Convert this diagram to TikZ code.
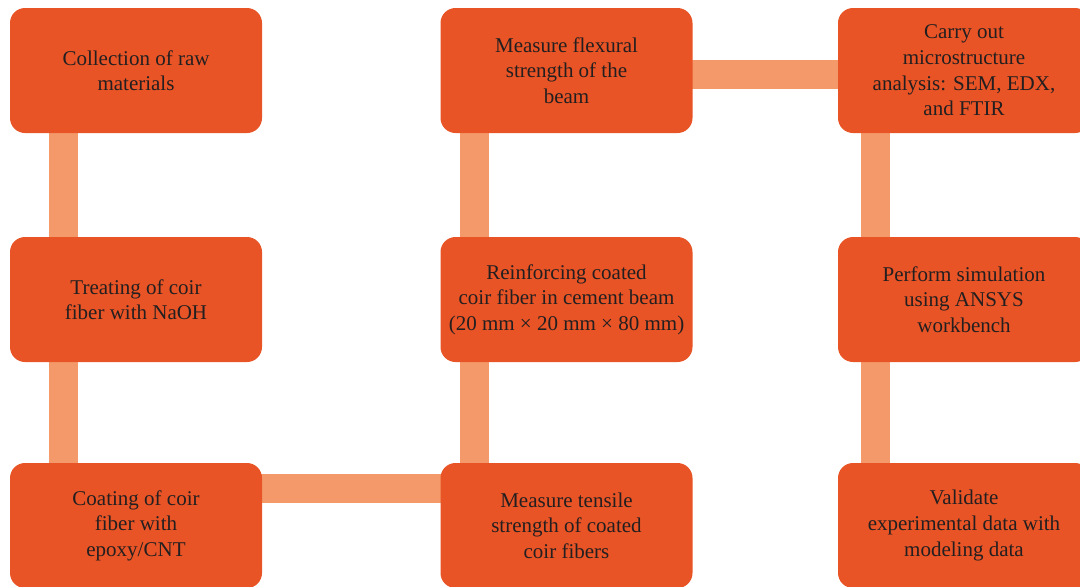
\documentclass[tikz,border=0pt]{standalone}
\usepackage{fontspec}
\setmainfont{Liberation Serif}
\usetikzlibrary{backgrounds}
\definecolor{boxfill}{HTML}{E85425}
\definecolor{barcol}{HTML}{F49A6A}
\definecolor{txt}{HTML}{231F20}
\tikzset{
  stepbox/.style={draw=none, fill=boxfill, rounded corners=7.5pt, minimum width=126pt, minimum height=62.5pt, inner sep=0pt, align=center, text=txt, font=\fontsize{10.5}{12.8}\selectfont},
  bar/.style={draw=barcol, line width=14.5pt, line cap=butt}
}
\begin{document}
\begin{tikzpicture}[x=0.5pt, y=-0.5pt]
\useasboundingbox (0,0) rectangle (1080,586);
\clip (0,0) rectangle (1080,586);
\node[stepbox] (a1) at (136,70.5) {Collection of raw\\materials};
\node[stepbox] (a2) at (136,299.5) {Treating of coir\\fiber with NaOH};
\node[stepbox] (a3) at (136,525.5) {Coating of coir\\fiber with\\epoxy/CNT};
\node[stepbox] (b3) at (566.5,525.5) {Measure tensile\\strength of coated\\coir fibers};
\node[stepbox] (b2) at (566.5,299.5) {Reinforcing coated\\coir fiber in cement beam\\(20 mm × 20 mm × 80 mm)};
\node[stepbox] (b1) at (566.5,70.5) {Measure flexural\\strength of the\\beam};
\node[stepbox] (c1) at (964,70.5) {Carry out\\microstructure\\analysis: SEM, EDX,\\and FTIR};
\node[stepbox] (c2) at (964,299.5) {Perform simulation\\using ANSYS\\workbench};
\node[stepbox] (c3) at (964,525.5) {Validate\\experimental data with\\modeling data};
\begin{scope}[on background layer]
\draw[bar] ([xshift=26.75pt]a1.west |- a1.center) -- ([xshift=26.75pt]a2.west |- a2.center);
\draw[bar] ([xshift=26.75pt]a2.west |- a2.center) -- ([xshift=26.75pt]a3.west |- a3.center);
\draw[bar] ([yshift=18.5pt]a3.center) -- ([yshift=18.5pt]b3.center);
\draw[bar] ([xshift=17.25pt]b3.west |- b3.center) -- ([xshift=17.25pt]b2.west |- b2.center);
\draw[bar] ([xshift=17.25pt]b2.west |- b2.center) -- ([xshift=17.25pt]b1.west |- b1.center);
\draw[bar] ([yshift=-1.75pt]b1.center) -- ([yshift=-1.75pt]c1.center);
\draw[bar] ([xshift=18.75pt]c1.west |- c1.center) -- ([xshift=18.75pt]c2.west |- c2.center);
\draw[bar] ([xshift=18.75pt]c2.west |- c2.center) -- ([xshift=18.75pt]c3.west |- c3.center);
\end{scope}
\end{tikzpicture}
\end{document}
